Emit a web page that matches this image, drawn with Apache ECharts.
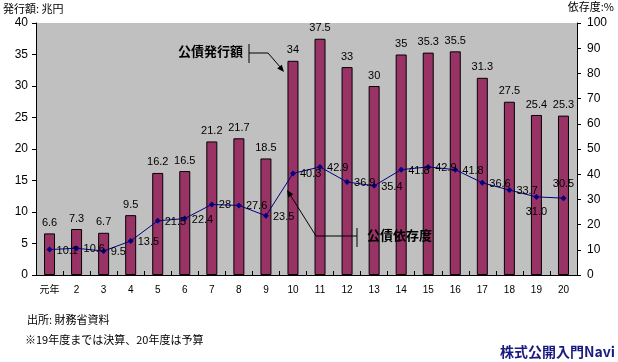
<!DOCTYPE html>
<html><head><meta charset="utf-8">
<script src="https://cdn.jsdelivr.net/npm/echarts@6/dist/echarts.min.js"></script>
<style>html,body{margin:0;padding:0;background:#fff}#c{width:618px;height:362px}</style>
</head><body><div id="c"></div>
<script>
const categories = ['元年','2','3','4','5','6','7','8','9','10','11','12','13','14','15','16','17','18','19','20'];
const issuance = [6.6,7.3,6.7,9.5,16.2,16.5,21.2,21.7,18.5,34,37.5,33,30,35,35.3,35.5,31.3,27.5,25.4,25.3];
const dependency = [10.1,10.6,9.5,13.5,21.5,22.4,28,27.6,23.5,40.3,42.9,36.9,35.4,41.8,42.9,41.8,36.6,33.7,31.0,30.5];
const dependencyLabels = ['10.1','10.6','9.5','13.5','21.5','22.4','28','27.6','23.5','40.3','42.9','36.9','35.4','41.8','42.9','41.8','36.6','33.7','31.0','30.5'];
const leftTicks = {min:0,max:40,interval:5};
const rightTicks = {min:0,max:100,interval:10};

const FONT = '"Liberation Sans", "Noto Sans CJK JP", sans-serif';
const JP = '"Noto Sans CJK JP", sans-serif';
const chart = echarts.init(document.getElementById('c'), null, {renderer:'canvas'});

const lineData = dependency.map((v,i)=>{
  const item = {value:v};
  let pos = 'right', off=[-1,1];
  if (i===18) { pos='bottom'; off=[0,2]; }
  if (i===19) { pos='top'; off=[0,-1]; }
  item.label = {position:pos, offset:off, formatter: dependencyLabels[i]};
  return item;
});

function arrowHead(x1,y1,x2,y2,len,w){
  const a = Math.atan2(y2-y1,x2-x1);
  const bx = x2 - len*Math.cos(a), by = y2 - len*Math.sin(a);
  const px = -Math.sin(a)*w, py = Math.cos(a)*w;
  return [[x2,y2],[bx+px,by+py],[bx-px,by-py]];
}
const lineStyle = {stroke:'#000', lineWidth:1};

chart.setOption({
  animation:false,
  backgroundColor:'#fff',
  textStyle:{fontFamily:FONT},
  grid:{left:36,right:41,top:23,bottom:87,show:true,backgroundColor:'#c0c0c0',borderWidth:0},
  xAxis:{type:'category',data:categories,
    axisLine:{show:true,lineStyle:{color:'#000',width:1}},
    axisTick:{show:true,interval:0,length:4,inside:true,lineStyle:{color:'#000'}},
    axisLabel:{color:'#000',fontSize:10,margin:10,interval:0,fontFamily:FONT},
    splitLine:{show:false}},
  yAxis:[
    {type:'value',min:leftTicks.min,max:leftTicks.max,interval:leftTicks.interval,
      axisLine:{show:true,lineStyle:{color:'#000'}},
      axisTick:{show:true,length:4,lineStyle:{color:'#000'}},
      axisLabel:{color:'#000',fontSize:12,margin:8,fontFamily:FONT},
      splitLine:{show:false}},
    {type:'value',min:rightTicks.min,max:rightTicks.max,interval:rightTicks.interval,position:'right',
      axisLine:{show:true,lineStyle:{color:'#000'}},
      axisTick:{show:true,length:4,lineStyle:{color:'#000'}},
      axisLabel:{color:'#000',fontSize:12,margin:10,fontFamily:FONT},
      splitLine:{show:false}}
  ],
  series:[
    {type:'bar',data:issuance,barWidth:11,yAxisIndex:0,
      itemStyle:{color:'#993366',borderColor:'#000',borderWidth:1},
      label:{show:true,position:'top',distance:5,color:'#000',fontSize:11,fontFamily:FONT}},
    {type:'line',data:lineData,yAxisIndex:1,symbol:'diamond',symbolSize:6,
      lineStyle:{color:'#000080',width:1},itemStyle:{color:'#000080'},
      label:{show:true,color:'#000',fontSize:11,fontFamily:FONT},z:5}
  ],
  graphic:[
    {type:'text',left:3,top:3,style:{text:'発行額: 兆円',fontSize:11,fontFamily:JP,fill:'#000'}},
    {type:'text',right:4,top:1,style:{text:'依存度:%',fontSize:11,fontFamily:JP,fill:'#000'}},
    {type:'text',left:27,top:314,style:{text:'出所: 財務省資料',fontSize:11,fontFamily:JP,fill:'#000'}},
    {type:'text',left:25,top:334,style:{text:'※19年度までは決算、20年度は予算',fontSize:11,fontFamily:JP,fill:'#000'}},
    {type:'text',right:3,top:345,style:{text:'株式公開入門Navi',fontSize:14,fontWeight:'bold',fontFamily:JP,fill:'#1a1a80'}},
    {type:'text',left:178,top:45,z:20,style:{text:'公債発行額',fontSize:13,fontWeight:'bold',fontFamily:JP,fill:'#000'}},
    {type:'line',z:20,shape:{x1:249,y1:44,x2:249,y2:63},style:lineStyle},
    {type:'polyline',z:20,shape:{points:[[249,53],[268,53],[281,68]]},style:lineStyle},
    {type:'polygon',z:20,shape:{points:arrowHead(268,53,284,72,7,3)},style:{fill:'#000'}},
    {type:'text',left:367,top:229,z:20,style:{text:'公債依存度',fontSize:13,fontWeight:'bold',fontFamily:JP,fill:'#000'}},
    {type:'line',z:20,shape:{x1:357,y1:228,x2:357,y2:247},style:lineStyle},
    {type:'polyline',z:20,shape:{points:[[357,236],[316,236],[289,193]]},style:lineStyle},
    {type:'polygon',z:20,shape:{points:arrowHead(316,236,287,190,7,3)},style:{fill:'#000'}}
  ]
});
</script></body></html>
